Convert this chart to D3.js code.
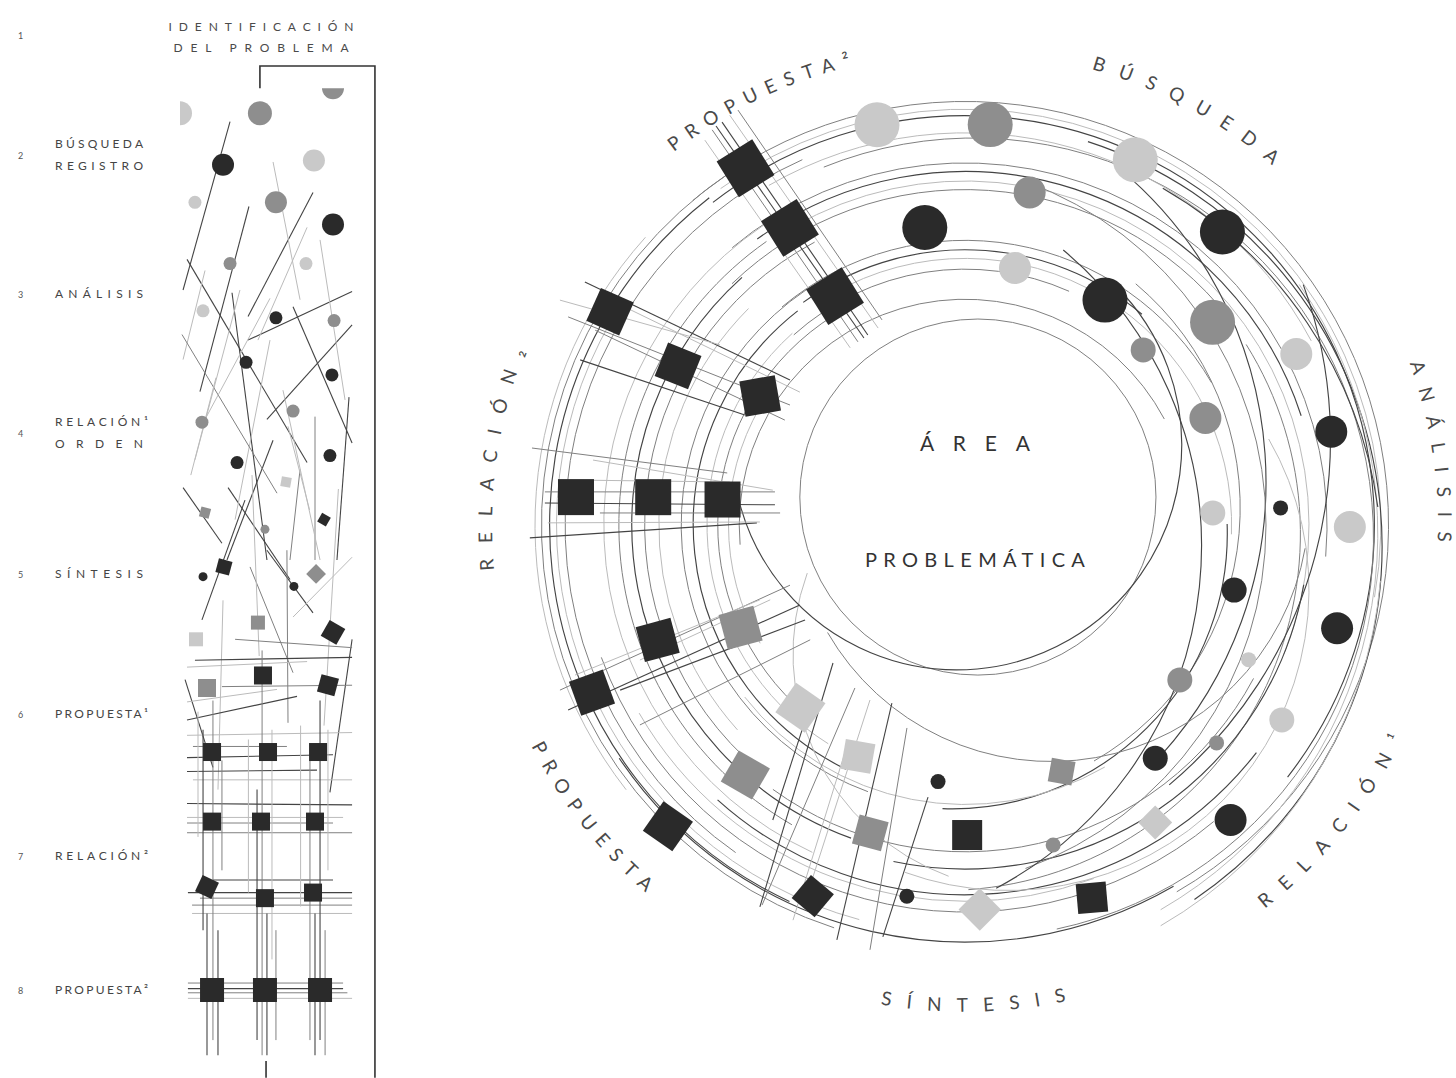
<!DOCTYPE html>
<html>
<head>
<meta charset="utf-8">
<script src="https://cdn.jsdelivr.net/npm/d3@7"></script>
<style>
  body { margin: 0; background: #fff; }
  svg { display: block; }
  text { font-family: Lato, "Open Sans", sans-serif; }
</style>
</head>
<body>
<svg id="chart"></svg>
<script>

// ---------- left panel: the eight steps ----------
var stepNumbers = ['1', '2', '3', '4', '5', '6', '7', '8'];
var stepRows = [1.14, 2, 3, 4, 5.01, 6.02, 7.04, 8];
var stepLabels = [
  [],
  ['BÚSQUEDA', 'REGISTRO'],
  ['ANÁLISIS'],
  ['RELACIÓN¹', 'ORDEN'],
  ['SÍNTESIS'],
  ['PROPUESTA¹'],
  ['RELACIÓN²'],
  ['PROPUESTA²']
];
var headerLines = ['IDENTIFICACIÓN', 'DEL PROBLEMA'];

// dots: [column %, step, tone, weight]
var leftDots = [
  [0, 1.70, 'light', 4], [44.4, 1.70, 'mid', 4], [85.0, 1.52, 'mid', 3],
  [23.9, 2.07, 'dark', 3], [74.4, 2.04, 'light', 3], [8.3, 2.34, 'light', 2],
  [53.3, 2.34, 'mid', 3], [85.0, 2.50, 'dark', 3], [27.8, 2.78, 'mid', 2],
  [70.0, 2.78, 'light', 2], [12.8, 3.12, 'light', 2], [53.3, 3.17, 'dark', 2],
  [85.6, 3.19, 'mid', 2], [36.7, 3.49, 'dark', 2], [84.4, 3.58, 'dark', 2],
  [12.2, 3.92, 'mid', 2], [62.8, 3.84, 'mid', 2], [31.7, 4.21, 'dark', 2],
  [83.3, 4.16, 'dark', 2], [47.2, 4.69, 'mid', 1], [12.8, 5.03, 'dark', 1],
  [63.3, 5.10, 'dark', 1]
];

// boxes: [column %, step, tone, weight, turn]
var leftBoxes = [
  [58.9, 4.35, 'light', 1, 10], [13.9, 4.57, 'mid', 1, 15], [80.0, 4.62, 'dark', 1, 30],
  [24.4, 4.96, 'dark', 2, 15], [75.6, 5.01, 'mid', 2, 45], [8.9, 5.48, 'light', 2, 0],
  [43.3, 5.36, 'mid', 2, 0], [85.0, 5.43, 'dark', 3, 30], [46.1, 5.74, 'dark', 3, 0],
  [15.0, 5.83, 'mid', 3, 0], [82.2, 5.81, 'dark', 3, 15], [17.8, 6.29, 'dark', 3, 0],
  [48.9, 6.29, 'dark', 3, 0], [76.7, 6.29, 'dark', 3, 0], [17.8, 6.79, 'dark', 3, 0],
  [45.0, 6.79, 'dark', 3, 0], [75.0, 6.79, 'dark', 3, 0], [15.0, 7.26, 'dark', 3, 25],
  [47.2, 7.34, 'dark', 3, 0], [73.9, 7.30, 'dark', 3, 0], [17.8, 8.00, 'dark', 4, 0],
  [47.2, 8.00, 'dark', 4, 0], [77.8, 8.00, 'dark', 4, 0]
];

// strokes: [col1, step1, col2, step2, tone]
var leftStrokes = [
  [27.8, 1.76, 1.7, 2.97, 'dark'], [73.9, 2.27, 37.8, 3.16, 'dark'],
  [38.3, 2.37, 11.1, 3.70, 'dark'], [3.9, 2.75, 70.6, 4.21, 'dark'],
  [37.8, 3.33, 95.6, 2.98, 'dark'], [48.3, 3.90, 95.6, 3.22, 'dark'],
  [62.8, 3.09, 95.6, 4.07, 'dark'], [28.9, 2.99, 48.3, 4.91, 'dark'],
  [1.7, 4.39, 23.3, 4.79, 'dark'], [26.7, 4.39, 61.1, 5.05, 'dark'],
  [26.1, 4.91, 51.7, 4.05, 'dark'], [66.7, 4.26, 61.1, 4.91, 'mid'],
  [93.9, 3.74, 87.2, 4.91, 'dark'], [75.0, 3.88, 75.0, 4.91, 'mid'],
  [51.7, 2.05, 66.7, 3.04, 'light'], [70.6, 2.52, 43.3, 3.33, 'light'],
  [13.9, 2.83, 1.7, 3.47, 'light'], [33.3, 2.97, 8.3, 4.19, 'light'],
  [77.8, 2.61, 91.7, 3.76, 'light'], [50.0, 3.33, 30.6, 4.62, 'light'],
  [57.2, 3.69, 77.8, 4.91, 'light'], [1.1, 3.29, 53.9, 4.43, 'mid'],
  [13.9, 3.90, 50.0, 3.03, 'light'], [12.2, 5.34, 36.1, 4.48, 'dark'],
  [48.3, 4.84, 73.9, 5.29, 'dark'], [95.6, 4.89, 62.8, 5.32, 'light'],
  [95.6, 5.48, 83.3, 6.58, 'dark'], [38.9, 4.96, 62.8, 5.72, 'mid'],
  [59.4, 4.84, 60.0, 6.08, 'mid'], [2.8, 5.77, 18.3, 6.40, 'dark'],
  [23.9, 5.20, 21.1, 6.56, 'light'], [88.0, 4.40, 80.0, 6.10, 'light'],
  [40.0, 4.30, 44.0, 5.60, 'light'], [20.0, 3.60, 6.0, 4.30, 'light'],
  [60.0, 3.95, 72.0, 4.55, 'light'],
  // horizontal weave
  [30.6, 5.48, 95.6, 5.54, 'mid'], [8.3, 5.63, 95.6, 5.61, 'dark'],
  [3.9, 5.68, 70.6, 5.64, 'light'], [23.3, 5.82, 95.6, 5.81, 'mid'],
  [3.9, 5.93, 53.9, 5.84, 'light'], [3.9, 6.06, 65.0, 5.89, 'dark'],
  [3.9, 6.17, 95.6, 6.15, 'light'], [7.2, 6.25, 59.4, 6.25, 'mid'],
  [3.9, 6.33, 85.0, 6.31, 'dark'], [3.9, 6.43, 76.1, 6.42, 'dark'],
  [7.2, 6.49, 95.6, 6.49, 'light'], [3.9, 6.66, 95.6, 6.67, 'dark'],
  [3.9, 6.76, 90.6, 6.76, 'light'], [3.9, 6.80, 85.0, 6.80, 'mid'],
  [3.9, 6.87, 95.6, 6.87, 'mid'], [18.3, 7.21, 85.0, 7.21, 'dark'],
  [4.4, 7.30, 95.6, 7.30, 'dark'], [11.1, 7.34, 95.6, 7.34, 'mid'],
  [6.7, 7.39, 95.6, 7.39, 'mid'], [6.7, 7.45, 95.6, 7.45, 'light'],
  [4.4, 7.95, 90.6, 7.95, 'mid'], [4.4, 7.99, 90.6, 7.99, 'dark'],
  [4.4, 8.02, 93.0, 8.02, 'mid'], [4.4, 8.06, 95.6, 8.06, 'light'],
  // vertical weave
  [12.8, 6.13, 12.8, 7.57, 'dark'], [15.0, 7.45, 15.0, 8.47, 'dark'],
  [18.3, 5.92, 18.3, 8.36, 'mid'], [21.1, 7.57, 21.1, 8.47, 'dark'],
  [23.3, 6.35, 23.3, 7.14, 'mid'], [10.0, 6.00, 10.0, 6.90, 'light'],
  [42.8, 6.56, 42.8, 8.36, 'dark'], [45.6, 5.56, 45.6, 8.47, 'mid'],
  [48.3, 7.45, 48.3, 8.47, 'dark'], [51.1, 6.13, 51.1, 7.78, 'light'],
  [53.3, 7.57, 53.3, 8.36, 'mid'], [38.0, 6.20, 38.0, 7.30, 'light'],
  [72.2, 6.35, 72.2, 8.36, 'mid'], [75.0, 7.45, 75.0, 8.47, 'dark'],
  [77.8, 5.92, 77.8, 8.36, 'dark'], [80.6, 7.57, 80.6, 8.47, 'mid'],
  [82.2, 6.13, 82.2, 7.14, 'light'], [67.0, 6.10, 67.0, 7.40, 'light']
];

// bracket from the problem down to the last step: [col, step]
var bracketPoints = [[44.4, 1.52], [44.4, 1.36], [108.3, 1.36], [108.3, 8.63]];
var bracketTick = [[47.8, 8.51], [47.8, 8.63]];

// ---------- right panel: the ring around the problem area ----------
var ringLabels = ['PROPUESTA²', 'BÚSQUEDA', 'ANÁLISIS', 'RELACIÓN¹', 'SÍNTESIS', 'PROPUESTA', 'RELACIÓN₂'];
var ringLabelAngles = [-26, 28, 81, 129, 179, 232, 278];
var ringLabelSpans = [24, 25, 22, 26, 22, 22, 27];
var centerLabels = ['ÁREA', 'PROBLEMÁTICA'];

// dots: [angle deg, radius (0-1), tone, weight]
var ringDots = [
  [-12.4, 0.953, 'light', 4], [3.6, 0.933, 'mid', 4], [25, 0.937, 'light', 4],
  [11, 0.788, 'mid', 3], [-7.7, 0.698, 'dark', 4], [41.3, 0.907, 'dark', 4],
  [11, 0.609, 'light', 3], [31.9, 0.616, 'dark', 4], [50.7, 0.744, 'mid', 4],
  [45.5, 0.581, 'mid', 2], [62.7, 0.867, 'light', 3], [66, 0.612, 'mid', 3],
  [75.7, 0.879, 'dark', 3], [87.2, 0.577, 'light', 2], [86.9, 0.735, 'dark', 1],
  [90.3, 0.895, 'light', 3], [103.6, 0.644, 'dark', 2], [105.5, 0.898, 'dark', 3],
  [115.4, 0.730, 'light', 1], [125.8, 0.616, 'mid', 2], [121.6, 0.865, 'light', 2],
  [130.9, 0.774, 'mid', 1], [140.8, 0.700, 'dark', 2], [138, 0.923, 'dark', 3],
  [164.6, 0.772, 'mid', 1], [186, 0.600, 'dark', 1], [188.9, 0.874, 'dark', 1]
];

// boxes: [angle deg, radius (0-1), tone, weight, turn]
var ringBoxes = [
  [-31.6, 0.974, 'dark', 4, -32], [-30.5, 0.802, 'dark', 4, -32], [-29.6, 0.612, 'dark', 4, -32],
  [-59, 0.963, 'dark', 3, 24], [-61, 0.763, 'dark', 3, 22], [-57.8, 0.563, 'dark', 3, -10],
  [-85.9, 0.907, 'dark', 3, 0], [-84.9, 0.728, 'dark', 3, 0], [-84, 0.567, 'dark', 3, 0],
  [245.8, 0.951, 'dark', 3, -20], [249.5, 0.763, 'dark', 3, -15], [245.4, 0.574, 'mid', 3, -15],
  [222, 0.572, 'light', 3, 35], [221.3, 0.774, 'mid', 3, 30], [224.6, 0.984, 'dark', 3, 35],
  [204.8, 0.593, 'light', 2, 10], [197.1, 0.749, 'mid', 2, 15], [202.3, 0.933, 'dark', 2, 40],
  [179.6, 0.721, 'dark', 2, 0], [177.8, 0.895, 'light', 2, 45], [158.6, 0.616, 'mid', 1, 10],
  [147.4, 0.821, 'light', 1, 45], [161.2, 0.916, 'dark', 2, -5]
];

// arcs: [from deg, to deg, radius, centre dx, centre dy, tone]
var ringArcs = [
  [-40, 150, 0.985, 0, 0, 'mid'], [-36, 100, 0.967, 0, 0, 'light'],
  [-38, 128, 0.952, 0, 0, 'dark'], [-22, 168, 0.93, 0.02, 0.03, 'mid'],
  [-30, 62, 0.912, 0, 0, 'light'], [18, 146, 0.99, -0.02, 0.05, 'dark'],
  [55, 150, 1.01, -0.05, 0.02, 'light'], [30, 82, 1.02, -0.05, 0.10, 'dark'],
  [198, 330, 0.985, 0, 0, 'mid'], [205, 322, 0.966, 0, 0, 'dark'],
  [195, 300, 0.95, 0, 0, 'light'], [215, 336, 0.93, 0, 0, 'mid'],
  [232, 312, 1.0, 0, 0, 'light'],
  [-40, 95, 0.842, 0, 0, 'mid'], [-36, 72, 0.822, 0, 0, 'dark'],
  [-30, 112, 0.80, 0, 0, 'light'], [-44, 52, 0.78, 0, 0, 'mid'],
  [58, 176, 0.83, -0.05, 0.02, 'mid'], [100, 192, 0.80, 0, 0, 'dark'],
  [118, 216, 0.76, 0, 0, 'mid'], [205, 330, 0.84, 0, 0, 'light'],
  [210, 325, 0.805, 0, 0, 'mid'], [200, 318, 0.775, 0, 0, 'dark'],
  [220, 332, 0.745, 0, 0, 'mid'], [228, 315, 0.712, 0, 0, 'light'],
  [-40, 60, 0.662, 0, 0, 'mid'], [-36, 40, 0.64, 0, 0, 'dark'],
  [-30, 92, 0.62, 0, 0, 'light'], [-42, 24, 0.595, 0, 0, 'mid'],
  [40, 150, 0.68, -0.04, -0.04, 'mid'], [88, 182, 0.64, -0.03, 0.02, 'dark'],
  [150, 232, 0.65, 0, 0, 'light'], [200, 330, 0.66, 0, 0, 'mid'],
  [206, 322, 0.632, 0, 0, 'dark'], [212, 318, 0.60, 0, 0, 'light'],
  [220, 328, 0.575, 0, 0, 'mid'], [240, 300, 0.55, 0, 0, 'light'],
  [150, 236, 0.97, 0, 0, 'dark'], [140, 250, 0.90, 0, 0, 'mid'],
  [160, 240, 0.875, 0, 0, 'light'], [128, 222, 0.86, 0, 0, 'dark'],
  [40, 132, 0.95, -0.25, -0.10, 'dark'], [20, 160, 0.85, -0.15, 0, 'mid'],
  [60, 200, 0.70, 0.10, 0.15, 'light'], [70, 140, 1.05, -0.20, -0.20, 'dark'],
  [100, 240, 0.60, 0.20, -0.05, 'mid'], [200, 290, 0.55, 0.15, 0.30, 'light'],
  [40, 152, 0.90, -0.35, 0.05, 'dark'], [95, 150, 1.03, -0.06, 0.04, 'light'],
  [0, 360, 0.414, 0.03, -0.065, 'mid'], [45, 255, 0.523, -0.019, -0.186, 'dark'],
  [-95, 62, 0.525, 0, 0, 'mid']
];

// straight strokes in ring space: [x1, y1, x2, y2, tone]  (-1..1)
var ringStrokes = [
  [-0.588, -0.919, -0.249, -0.426, 'mid'], [-0.565, -0.937, -0.226, -0.442, 'dark'],
  [-0.547, -0.953, -0.202, -0.458, 'light'], [-0.605, -0.895, -0.267, -0.412, 'light'],
  [-0.528, -0.965, -0.193, -0.477, 'mid'], [-0.579, -0.928, -0.235, -0.435, 'dark'],
  [-0.884, -0.565, -0.407, -0.337, 'dark'], [-0.923, -0.484, -0.407, -0.279, 'mid'],
  [-0.895, -0.384, -0.512, -0.256, 'dark'], [-0.849, -0.535, -0.384, -0.309, 'light'],
  [-0.942, -0.523, -0.570, -0.419, 'light'], [-0.860, -0.453, -0.419, -0.244, 'mid'],
  [-1.007, -0.179, -0.553, -0.121, 'mid'], [-1.012, 0.030, -0.484, -0.005, 'dark'],
  [-0.970, -0.005, -0.477, -0.007, 'light'], [-0.977, -0.077, -0.442, -0.077, 'mid'],
  [-0.977, -0.051, -0.442, -0.047, 'dark'], [-0.865, -0.151, -0.447, -0.081, 'light'],
  [-0.849, -0.028, -0.430, -0.028, 'mid'], [-0.942, -0.105, -0.547, -0.100, 'light'],
  [-0.923, 0.430, -0.384, 0.186, 'dark'], [-0.942, 0.384, -0.407, 0.140, 'mid'],
  [-0.802, 0.384, -0.372, 0.221, 'dark'], [-0.756, 0.465, -0.360, 0.267, 'mid'],
  [-0.907, 0.349, -0.477, 0.174, 'light'], [-0.756, 0.314, -0.453, 0.174, 'light'],
  [-0.307, 0.321, -0.477, 0.888, 'dark'], [-0.256, 0.379, -0.472, 0.884, 'mid'],
  [-0.170, 0.414, -0.298, 0.965, 'dark'], [-0.135, 0.472, -0.221, 0.988, 'mid'],
  [-0.274, 0.512, -0.400, 0.919, 'light'], [-0.086, 0.633, -0.191, 0.958, 'dark'],
  [-0.379, 0.477, -0.447, 0.686, 'dark'], [-0.221, 0.407, -0.356, 0.826, 'light']
];

// ---------- drawing ----------
var width = 1456, height = 1078;
var svg = d3.select('#chart').attr('width', width).attr('height', height);
var defs = svg.append('defs');

var fill = d3.scaleOrdinal().domain(['dark', 'mid', 'light']).range(['#2a2a2a', '#8e8e8e', '#c9c9c9']);
var ink = d3.scaleOrdinal().domain(['dark', 'mid', 'light']).range(['#444', '#808080', '#bbb']);
var inkW = d3.scaleOrdinal().domain(['dark', 'mid', 'light']).range([1.1, 1, 1]);

// left panel scales
var xL = d3.scaleLinear().domain([0, 100]).range([180, 360]);
var yL = d3.scaleLinear().domain([2, 8]).range([155, 990]);
var dotR = d3.scaleOrdinal().domain([1, 2, 3, 4]).range([4.5, 6.5, 11, 12]);
var boxS = d3.scaleOrdinal().domain([1, 2, 3, 4]).range([10, 14, 18, 24]);

defs.append('clipPath').attr('id', 'leftClip')
  .append('rect')
  .attr('x', xL(0)).attr('y', yL(1.52))
  .attr('width', xL(100) - xL(0)).attr('height', yL(8.47) - yL(1.52));

var left = svg.append('g').attr('clip-path', 'url(#leftClip)');

left.selectAll('line')
  .data(leftStrokes)
  .join('line')
  .attr('x1', d => xL(d[0])).attr('y1', d => yL(d[1]))
  .attr('x2', d => xL(d[2])).attr('y2', d => yL(d[3]))
  .attr('stroke', d => ink(d[4]))
  .attr('stroke-width', d => inkW(d[4]));

left.selectAll('circle')
  .data(leftDots)
  .join('circle')
  .attr('cx', d => xL(d[0])).attr('cy', d => yL(d[1]))
  .attr('r', d => dotR(d[3]))
  .attr('fill', d => fill(d[2]));

left.selectAll('rect.box')
  .data(leftBoxes)
  .join('rect')
  .attr('class', 'box')
  .attr('x', d => -boxS(d[3]) / 2).attr('y', d => -boxS(d[3]) / 2)
  .attr('width', d => boxS(d[3])).attr('height', d => boxS(d[3]))
  .attr('transform', d => `translate(${xL(d[0])},${yL(d[1])}) rotate(${d[4]})`)
  .attr('fill', d => fill(d[2]));

var bracketLine = d3.line().x(d => xL(d[0])).y(d => yL(d[1]));
svg.append('path').attr('d', bracketLine(bracketPoints))
  .attr('fill', 'none').attr('stroke', '#333').attr('stroke-width', 1.6);
svg.append('path').attr('d', bracketLine(bracketTick))
  .attr('fill', 'none').attr('stroke', '#333').attr('stroke-width', 1.6);

// header
headerLines.forEach(function (t, i) {
  svg.append('text')
    .attr('x', xL(45)).attr('y', yL([1.109, 1.26][i]))
    .attr('text-anchor', 'middle')
    .attr('font-size', 12).attr('fill', '#4a4a4a')
    .attr('textLength', [185, 175][i]).attr('lengthAdjust', 'spacing')
    .text(t);
});

// step numbers and names
stepNumbers.forEach(function (n, i) {
  var y = yL(stepRows[i]);
  svg.append('text').attr('x', 18).attr('y', y + 4)
    .attr('font-size', 9).attr('fill', '#555').text(n);
  var lines = stepLabels[i];
  lines.forEach(function (t, j) {
    var by = lines.length === 1 ? y + 4 : y - 7 + j * 22;
    svg.append('text').attr('x', 55).attr('y', by)
      .attr('font-size', 12).attr('fill', '#444')
      .attr('textLength', /[¹²]/.test(t) ? 93 : 88).attr('lengthAdjust', 'spacing')
      .text(t);
  });
});

// ring scales
var cx = 965, cy = 525, R = 430;
var rS = d3.scaleLinear().domain([0, 1]).range([0, R]);
var xC = d3.scaleLinear().domain([-1, 1]).range([cx - R, cx + R]);
var yC = d3.scaleLinear().domain([-1, 1]).range([cy - R, cy + R]);
var rad = d3.scaleLinear().domain([0, 180]).range([0, Math.PI]);
var ringDotR = d3.scaleOrdinal().domain([1, 2, 3, 4]).range([7.5, 12.5, 16, 22.5]);
var ringBoxS = d3.scaleOrdinal().domain([1, 2, 3, 4]).range([24, 30, 36, 42]);

function polar(a, r) {
  return [cx + rS(r) * Math.sin(rad(a)), cy - rS(r) * Math.cos(rad(a))];
}

var ring = svg.append('g');

ring.selectAll('path.arc')
  .data(ringArcs)
  .join('path')
  .attr('class', 'arc')
  .attr('d', function (d) {
    var p = d3.path();
    p.arc(xC(d[3]), yC(d[4]), rS(d[2]), rad(d[0] - 90), rad(d[1] - 90), false);
    return p.toString();
  })
  .attr('fill', 'none')
  .attr('stroke', d => ink(d[5]))
  .attr('stroke-width', d => d[5] === 'dark' ? 1.15 : 1);

ring.selectAll('line')
  .data(ringStrokes)
  .join('line')
  .attr('x1', d => xC(d[0])).attr('y1', d => yC(d[1]))
  .attr('x2', d => xC(d[2])).attr('y2', d => yC(d[3]))
  .attr('stroke', d => ink(d[4]))
  .attr('stroke-width', d => inkW(d[4]));

ring.selectAll('circle')
  .data(ringDots)
  .join('circle')
  .attr('cx', d => polar(d[0], d[1])[0])
  .attr('cy', d => polar(d[0], d[1])[1])
  .attr('r', d => ringDotR(d[3]))
  .attr('fill', d => fill(d[2]));

ring.selectAll('rect')
  .data(ringBoxes)
  .join('rect')
  .attr('x', d => -ringBoxS(d[3]) / 2).attr('y', d => -ringBoxS(d[3]) / 2)
  .attr('width', d => ringBoxS(d[3])).attr('height', d => ringBoxS(d[3]))
  .attr('transform', function (d) {
    var p = polar(d[0], d[1]);
    return `translate(${p[0]},${p[1]}) rotate(${d[4]})`;
  })
  .attr('fill', d => fill(d[2]));

// centre text
svg.append('text')
  .attr('x', xC(0.023)).attr('y', yC(-0.172))
  .attr('text-anchor', 'middle').attr('font-size', 21).attr('fill', '#333')
  .attr('textLength', 110).attr('lengthAdjust', 'spacing')
  .text(centerLabels[0]);
svg.append('text')
  .attr('x', xC(0.023)).attr('y', yC(0.098))
  .attr('text-anchor', 'middle').attr('font-size', 20).attr('fill', '#333')
  .attr('textLength', 220).attr('lengthAdjust', 'spacing')
  .text(centerLabels[1]);

// labels round the ring
ringLabels.forEach(function (lab, i) {
  var a = ringLabelAngles[i], span = ringLabelSpans[i];
  var ccw = a > 90 && a < 270;
  var r = ccw ? rS(1.132) : rS(1.10);
  var half = span / 2 + 30;
  var p = d3.path();
  if (ccw) p.arc(cx, cy, r, rad(a + half - 90), rad(a - half - 90), true);
  else p.arc(cx, cy, r, rad(a - half - 90), rad(a + half - 90), false);
  defs.append('path').attr('id', 'lab' + i).attr('d', p.toString());

  var t = svg.append('text').attr('font-size', 19).attr('fill', '#4a4a4a');
  var tp = t.append('textPath')
    .attr('href', '#lab' + i)
    .attr('text-anchor', 'middle')
    .text(lab);
  var natural = t.node().getComputedTextLength();
  var target = rad(span) * r;
  var ls = Math.max(0, (target - natural) / (lab.length - 1));
  t.style('letter-spacing', ls + 'px');
  tp.attr('startOffset', rad(half) * r + ls / 2);
});

</script>
</body>
</html>
